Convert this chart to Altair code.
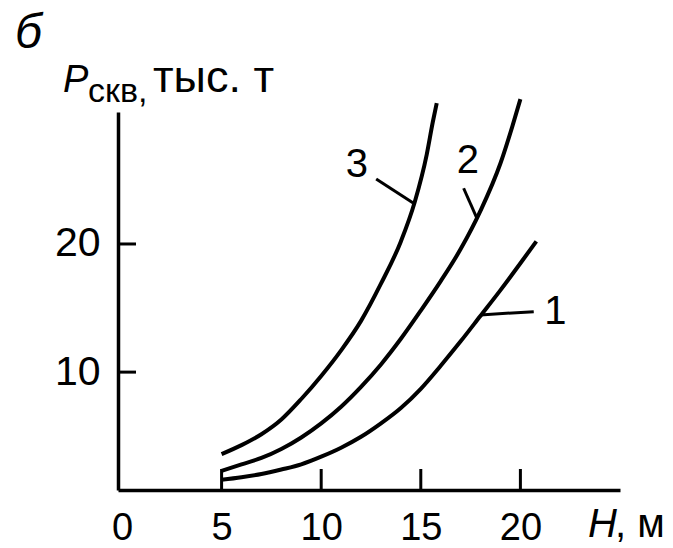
import altair as alt
import pandas as pd

# ---- data ----
h1 = [5, 6, 7, 8, 9, 10, 11, 12, 13, 14, 15, 16, 17, 18, 19, 20, 20.8]
p1 = [1.6, 1.8, 2.05, 2.4, 2.8, 3.4, 4.1, 4.95, 6.0, 7.2, 8.7, 10.5, 12.4, 14.4, 16.4, 18.5, 20.2]
h2 = [5, 6, 7, 8, 9, 10, 11, 12, 13, 14, 15, 16, 17, 18, 19, 19.6, 20]
p2 = [2.3, 2.8, 3.3, 4.0, 4.9, 6.0, 7.3, 8.85, 10.6, 12.6, 14.8, 17.1, 19.6, 22.6, 26.3, 29.2, 31.3]
h3 = [5, 6, 7, 8, 9, 10, 11, 12, 13, 14, 14.7, 15.3, 15.6, 15.8]
p3 = [3.6, 4.3, 5.15, 6.3, 7.9, 9.7, 11.7, 14.0, 16.9, 20.2, 23.3, 27.0, 29.5, 31.0]

x_ticks = [5, 10, 15, 20]
x_labels = [0, 5, 10, 15, 20]
y_ticks = [10, 20]

curve_names = ["3", "2", "1"]
label_x = [11.79, 17.36, 21.76]
label_y = [26.17, 26.5, 14.72]
lead_x = [12.76, 17.15, 17.99]
lead_y = [25.08, 24.35, 14.46]
lead_x2 = [14.62, 17.82, 20.67]
lead_y2 = [23.2, 22.0, 14.72]

FONT = "Liberation Sans"
W, H = 502, 378

curves = pd.concat([
    pd.DataFrame({"H": h1, "P": p1, "c": "1"}),
    pd.DataFrame({"H": h2, "P": p2, "c": "2"}),
    pd.DataFrame({"H": h3, "P": p3, "c": "3"}),
], ignore_index=True)

xs = alt.Scale(domain=[-0.2, 25], nice=False, zero=False)
ys = alt.Scale(domain=[0.8, 30.3], nice=False, zero=False)

x_axis = alt.Axis(values=x_labels, ticks=False, tickSize=0, grid=False, title=None,
                  domainColor="black", domainWidth=3.5, labelPadding=19, labelFlush=False,
                  labelFontSize=38, format="d")
y_axis = alt.Axis(values=y_ticks, ticks=False, tickSize=0, grid=False, title=None,
                  domainColor="black", domainWidth=3.5, labelPadding=18, labelFlush=False,
                  labelFontSize=41, format="d")


def X(f):
    return alt.X(f, scale=xs, axis=x_axis, title=None)


def Y(f):
    return alt.Y(f, scale=ys, axis=y_axis, title=None)


lines = alt.Chart(curves).mark_line(color="black", strokeWidth=4, interpolate="monotone").encode(
    x=X("H:Q"), y=Y("P:Q"), detail="c:N")

xt = alt.Chart(pd.DataFrame({"v": x_ticks})).mark_rule(color="black", strokeWidth=3).encode(
    x=X("v:Q"), y=alt.value(H), y2=alt.value(H - 21))

yt = alt.Chart(pd.DataFrame({"v": y_ticks})).mark_rule(color="black", strokeWidth=3).encode(
    y=Y("v:Q"), x=alt.value(0), x2=alt.value(18))

lead_df = pd.DataFrame({"x": lead_x, "y": lead_y, "x2": lead_x2, "y2": lead_y2})
leads = alt.Chart(lead_df).mark_rule(color="black", strokeWidth=3).encode(
    x=X("x:Q"), y=Y("y:Q"), x2="x2:Q", y2="y2:Q")

lab_df = pd.DataFrame({"t": curve_names, "x": label_x, "y": label_y})
labs = alt.Chart(lab_df).mark_text(font=FONT, fontSize=40, color="black", align="center",
                                   baseline="middle").encode(
    x=X("x:Q"), y=Y("y:Q"), text="t:N")


def txt(s, x, y, size, style="normal"):
    return alt.Chart(pd.DataFrame({"t": [s]})).mark_text(
        font=FONT, fontSize=size, fontStyle=style, color="black", align="left",
        baseline="alphabetic").encode(text="t:N", x=alt.value(x), y=alt.value(y))


texts = [
    txt("б", -103, -64, 48, "italic"),
    txt("P", -55, -20, 38, "italic"),
    txt("скв,", -30, -10, 34),
    txt("тыс. т", 35, -20, 45),
    txt("H", 470, 425, 40, "italic"),
    txt(", м", 497, 425, 40),
]

chart = alt.layer(lines, xt, yt, leads, labs, *texts).properties(
    width=W, height=H,
    autosize=alt.AutoSizeParams(type="none"),
    padding={"left": 118, "top": 112, "right": 53, "bottom": 58},
    background="white",
).configure_view(stroke="transparent").configure_axis(
    labelFont=FONT, labelColor="black")

chart.save("out.html", embed_options={"renderer": "svg", "actions": False})
